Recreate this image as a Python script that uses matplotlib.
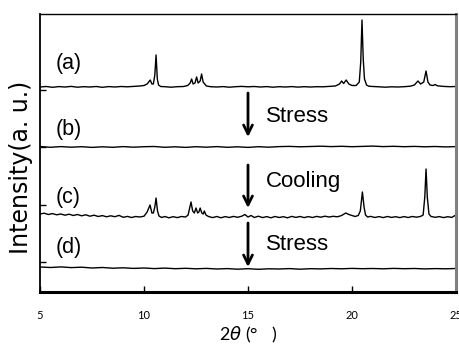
import matplotlib
matplotlib.use("Agg")
import matplotlib.pyplot as plt

# === XRD traces (2theta, intensity above baseline) ===
two_theta_a = [5.0, 5.3, 5.6, 5.9, 6.2, 6.5, 6.8, 7.1, 7.4, 7.7, 8.0, 8.3, 8.6, 8.9, 9.2, 9.5,
               9.8, 10.0, 10.15, 10.3, 10.38, 10.45, 10.52, 10.58, 10.64, 10.7, 10.8, 11.0,
               11.3, 11.6, 11.9, 12.1, 12.22, 12.29, 12.36, 12.45, 12.53, 12.6, 12.7, 12.77,
               12.84, 12.92, 13.0, 13.2, 13.5, 13.8, 14.1, 14.4, 14.7, 15.0, 15.3, 15.6, 15.9,
               16.2, 16.5, 16.8, 17.1, 17.4, 17.7, 18.0, 18.3, 18.6, 18.9, 19.2, 19.4, 19.5,
               19.6, 19.72, 19.85, 20.0, 20.2, 20.35, 20.42, 20.48, 20.54, 20.6, 20.7, 20.8,
               21.0, 21.3, 21.6, 21.9, 22.2, 22.5, 22.8, 23.0, 23.17, 23.3, 23.45, 23.56,
               23.65, 23.75, 23.9, 24.0, 24.1, 24.4, 24.7, 25.0]
intensity_a = [0, 0.5, -0.3, 0.4, 0, 0.6, -0.2, 0.3, 0, 0.5, -0.3, 0.4, 0, 0.5, 0.2, 0.6,
               1.0, 1.5, 3, 7, 3, 3, 12, 32, 8, 2, 0.5, 0.3,
               -0.2, 0.3, 0.5, 1.5, 4, 8, 3, 4, 10, 4, 6, 13,
               5, 3, 1, 0.3, 0, 0.4, -0.2, 0.3, 0.6, 0.2, 0.5, 0, 0.4,
               -0.2, 0.3, 0, 0.4, -0.1, 0.3, 0, 0.3, 0.2, 0.6, 1.0, 3, 6,
               3.5, 7, 3, 1.5, 1.5, 5, 25, 67, 28, 8, 2, 0.8,
               0.5, 0.2, -0.2, 0.2, 0, 0.3, 0.8, 2, 6, 3, 5, 16,
               5, 2, 1.5, 2.5, 1.2, 0.6, 0.3, 0.5]

two_theta_b = [5.0, 5.5, 6.0, 6.5, 7.0, 7.5, 8.0, 8.5, 9.0, 9.5, 10.0, 10.5, 11.0, 11.5,
               12.0, 12.5, 13.0, 13.5, 14.0, 14.5, 15.0, 15.5, 16.0, 16.5, 17.0, 17.5,
               18.0, 18.5, 19.0, 19.5, 20.0, 20.5, 21.0, 21.5, 22.0, 22.5, 23.0, 23.5,
               24.0, 24.5, 25.0]
intensity_b = [0.5, -0.3, 0.4, -0.2, 0.3, -0.4, 0.2, -0.3, 0.4, -0.2, 0.3, 0.5, -0.3, 0.2,
               -0.4, 0.3, -0.2, 0.4, -0.3, 0.2, -0.4, 0.3, -0.2, 0.4, 0.6, 0.2,
               0.5, 0.8, 0.4, 0.7, 0.3, 0.6, 0.9, 0.4, 0.7, 0.3, 0.6, 0.2, 0.5, 0.1, 0.4]

two_theta_c = [5.0, 5.2, 5.4, 5.6, 5.8, 6.0, 6.2, 6.4, 6.6, 6.8, 7.0, 7.2, 7.4, 7.6, 7.8,
               8.0, 8.2, 8.4, 8.6, 8.8, 9.0, 9.2, 9.4, 9.6, 9.8, 10.0, 10.15, 10.29, 10.38,
               10.45, 10.52, 10.58, 10.65, 10.72, 10.85, 11.0, 11.2, 11.4, 11.6, 11.8, 12.0,
               12.12, 12.26, 12.34, 12.42, 12.5, 12.58, 12.64, 12.7, 12.78, 12.85, 12.9,
               12.98, 13.1, 13.3, 13.5, 13.7, 13.9, 14.1, 14.3, 14.5, 14.7, 14.85, 15.0,
               15.15, 15.3, 15.5, 15.7, 15.9, 16.1, 16.3, 16.5, 16.7, 16.9, 17.1, 17.3,
               17.5, 17.7, 17.9, 18.1, 18.3, 18.5, 18.7, 18.9, 19.1, 19.3, 19.5, 19.7,
               19.85, 20.0, 20.15, 20.3, 20.4, 20.5, 20.58, 20.65, 20.75, 20.9, 21.1, 21.3,
               21.5, 21.7, 21.9, 22.1, 22.3, 22.5, 22.7, 22.9, 23.1, 23.3, 23.42, 23.5,
               23.56, 23.62, 23.7, 23.8, 24.0, 24.2, 24.4, 24.6, 24.8, 24.95, 25.0]
intensity_c = [3, 3.8, 2.5, 3.4, 2.2, 3.0, 1.8, 2.8, 1.5, 2.5, 1.2, 2.2, 0.8, 1.8, 0.5,
               1.4, 0.2, 1.2, 0.3, 1.6, -0.3, 0.6, -0.5, 0.5, 0, 0.8, 5, 12, 4,
               4, 10, 19, 6, 1, -0.5, 0.5, -0.8, 0.3, -0.6, 0.5, 0,
               2, 15, 6, 4, 9, 4, 5, 9, 4, 3, 6,
               2, 0.5, -0.6, 0.5, -0.8, 0.4, -0.5, 0.6, -0.3, 0.8, 2.5, 0,
               1.5, -0.5, 0.8, -0.6, 0.4, -0.8, 0.5, -0.5, 0.3, -0.8, 0.6, -0.4,
               0.5, -0.6, 0.4, -0.5, 0.6, -0.2, 0.8, 0, 0.7, 0.2, 1.5, 4,
               2.5, 1.5, 0.5, 1.5, 6, 25, 10, 2, 0, 0.6, -0.5, 0.4,
               -0.6, 0.5, -0.4, 0.3, -0.6, 0.4, -0.5, 0.5, -0.2, 0.6, 2, 20,
               48, 20, 3, 0.5, -0.3, 0.4, -0.6, 0.3, -0.4, 1.5, 0]

two_theta_d = [5.0, 5.5, 6.0, 6.5, 7.0, 7.5, 8.0, 8.5, 9.0, 9.5, 10.0, 10.5, 11.0, 11.5,
               12.0, 12.5, 13.0, 13.5, 14.0, 14.5, 15.0, 15.5, 16.0, 16.5, 17.0, 17.5,
               18.0, 18.5, 19.0, 19.5, 20.0, 20.5, 21.0, 21.5, 22.0, 22.5, 23.0, 23.5,
               24.0, 24.5, 25.0]
intensity_d = [2.0, 1.5, 2.1, 1.4, 1.8, 1.0, 1.5, 0.8, 1.2, 0.6, 1.0, 0.4, 0.9, 0.3,
               0.7, 0.2, 0.6, 0.0, 0.4, -0.2, 0.3, -0.3, 0.2, 0.0, 0.4, -0.2,
               0.3, 0.1, 0.5, 0.2, 0.6, 0.3, 0.5, 0.2, 0.6, 0.3, 0.5, 0.1, 0.4, 0.2, 0.5]

trace_labels = ["(a)", "(b)", "(c)", "(d)"]
step_labels = ["Stress", "Cooling", "Stress"]

# vertical stacking of the traces
offsets = [205, 145, 75, 23]
label_y = [228, 162, 95, 44]
arrows = [(199, 155), (127, 84), (69, 25)]
step_y = [175, 110, 47]

fig = plt.figure(figsize=(4.6, 3.47), dpi=100)
ax = fig.add_axes([40 / 460, 55 / 347, 416 / 460, 278 / 347])

traces = [(two_theta_a, intensity_a), (two_theta_b, intensity_b),
          (two_theta_c, intensity_c), (two_theta_d, intensity_d)]
for (tt, inten), off in zip(traces, offsets):
    ax.plot(tt, [v + off for v in inten], color="black", lw=1.0)

for lab, y in zip(trace_labels, label_y):
    ax.text(5.75, y, lab, fontsize=15.5, family="Liberation Sans", va="center")

for (y0, y1), lab, y in zip(arrows, step_labels, step_y):
    ax.annotate("", xy=(15, y1), xytext=(15, y0),
                arrowprops=dict(arrowstyle="->", color="black", lw=2.0,
                                mutation_scale=16, shrinkA=0, shrinkB=0))
    ax.text(15.85, y, lab, fontsize=16, family="Liberation Sans", va="center")

ax.set_xlim(5, 25)
ax.set_ylim(0, 278)
ax.set_xticks([5, 10, 15, 20, 25])
ax.set_xticklabels(["5", "10", "15", "20", "25"], family="Lato", fontsize=8)
ax.set_yticks([30, 87.5, 145, 202.5])
ax.set_yticklabels([])
ax.tick_params(axis="x", direction="in", length=4, width=1, pad=13)
ax.tick_params(axis="y", direction="in", length=4, width=1)

ax.set_xlabel(r"2$\theta$ (°   )", family="Lato", fontsize=13)
ax.xaxis.set_label_coords(0.5, -0.12)
ax.set_ylabel("Intensity(a. u.)", family="DejaVu Sans", fontsize=17)
ax.yaxis.set_label_coords(-0.017, 0.45)

ax.spines["bottom"].set_linewidth(2.2)
ax.spines["left"].set_linewidth(1.3)
ax.spines["top"].set_linewidth(1.0)
ax.spines["right"].set_linewidth(2.2)
ax.spines["right"].set_color("#808080")

fig.savefig("out.png", dpi=100)
